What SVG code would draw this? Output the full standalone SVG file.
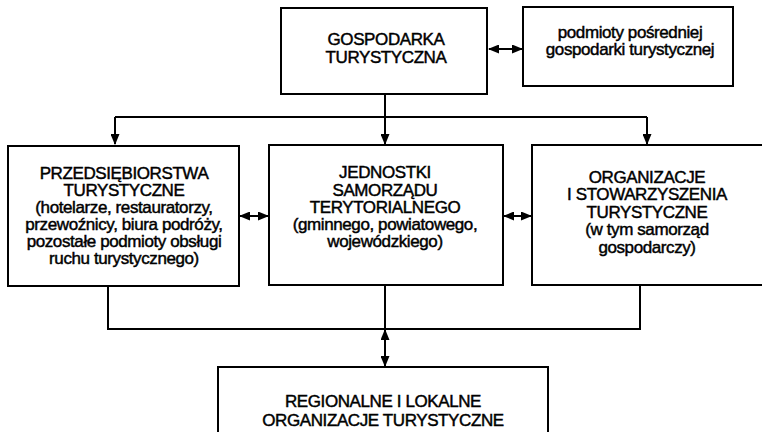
<svg xmlns="http://www.w3.org/2000/svg" width="762" height="432" viewBox="0 0 762 432">
<style>
.box{fill:#fff;stroke:#000;stroke-width:2}
.ln{fill:none;stroke:#000;stroke-width:2}
.t{font-family:"Liberation Sans",Arial,Helvetica,sans-serif;font-size:17px;letter-spacing:-0.4px;text-anchor:middle;fill:#000;stroke:#000;stroke-width:0.45}
</style>
<defs>
<marker id="ah" markerUnits="userSpaceOnUse" markerWidth="11" markerHeight="9" refX="10" refY="4.5" orient="auto-start-reverse">
<path d="M0,0 L11,4.5 L0,9 z" fill="#000"/>
</marker>
</defs>
<rect width="762" height="432" fill="#fff"/>
<g id="connectors">
<path class="ln" d="M385,94 V117"/>
<path class="ln" d="M115,117 H647"/>
<path class="ln" d="M115,117 V144" marker-end="url(#ah)"/>
<path class="ln" d="M385,117 V144" marker-end="url(#ah)"/>
<path class="ln" d="M647,117 V144" marker-end="url(#ah)"/>
<path class="ln" d="M489,49 H522" marker-start="url(#ah)" marker-end="url(#ah)"/>
<path class="ln" d="M240,216 H268" marker-start="url(#ah)" marker-end="url(#ah)"/>
<path class="ln" d="M504,216 H531" marker-start="url(#ah)" marker-end="url(#ah)"/>
<path class="ln" d="M108,286 V329 H640 V286"/>
<path class="ln" d="M385,286 V329"/>
<path class="ln" d="M385,330 V366" marker-start="url(#ah)" marker-end="url(#ah)"/>
</g>
<g id="gospodarka">
<rect class="box" x="281" y="8" width="206" height="86"/>
<text class="t" x="386" y="45">GOSPODARKA</text>
<text class="t" x="386" y="63">TURYSTYCZNA</text>
</g>
<g id="podmioty">
<rect class="box" x="523" y="7" width="210" height="79"/>
<text class="t" x="630" y="38">podmioty pośredniej</text>
<text class="t" x="630" y="55">gospodarki turystycznej</text>
</g>
<g id="przedsiebiorstwa">
<rect class="box" x="8" y="146" width="231" height="140"/>
<text class="t" x="124" y="179">PRZEDSIĘBIORSTWA</text>
<text class="t" x="124" y="196">TURYSTYCZNE</text>
<text class="t" x="124" y="213">(hotelarze, restauratorzy,</text>
<text class="t" x="124" y="230">przewoźnicy, biura podróży,</text>
<text class="t" x="124" y="247">pozostałe podmioty obsługi</text>
<text class="t" x="124" y="264">ruchu turystycznego)</text>
</g>
<g id="jednostki">
<rect class="box" x="269" y="145" width="234" height="140"/>
<text class="t" x="385" y="178">JEDNOSTKI</text>
<text class="t" x="385" y="196">SAMORZĄDU</text>
<text class="t" x="385" y="213">TERYTORIALNEGO</text>
<text class="t" x="385" y="230">(gminnego, powiatowego,</text>
<text class="t" x="385" y="247">wojewódzkiego)</text>
</g>
<g id="organizacje">
<rect class="box" x="532" y="145" width="240" height="140"/>
<text class="t" x="647" y="183">ORGANIZACJE</text>
<text class="t" x="647" y="200">I STOWARZYSZENIA</text>
<text class="t" x="647" y="218">TURYSTYCZNE</text>
<text class="t" x="647" y="235">(w tym samorząd</text>
<text class="t" x="647" y="253">gospodarczy)</text>
</g>
<g id="regionalne">
<rect class="box" x="218" y="367" width="330" height="80"/>
<text class="t" x="383" y="407">REGIONALNE I LOKALNE</text>
<text class="t" x="383" y="426">ORGANIZACJE TURYSTYCZNE</text>
</g>
</svg>
